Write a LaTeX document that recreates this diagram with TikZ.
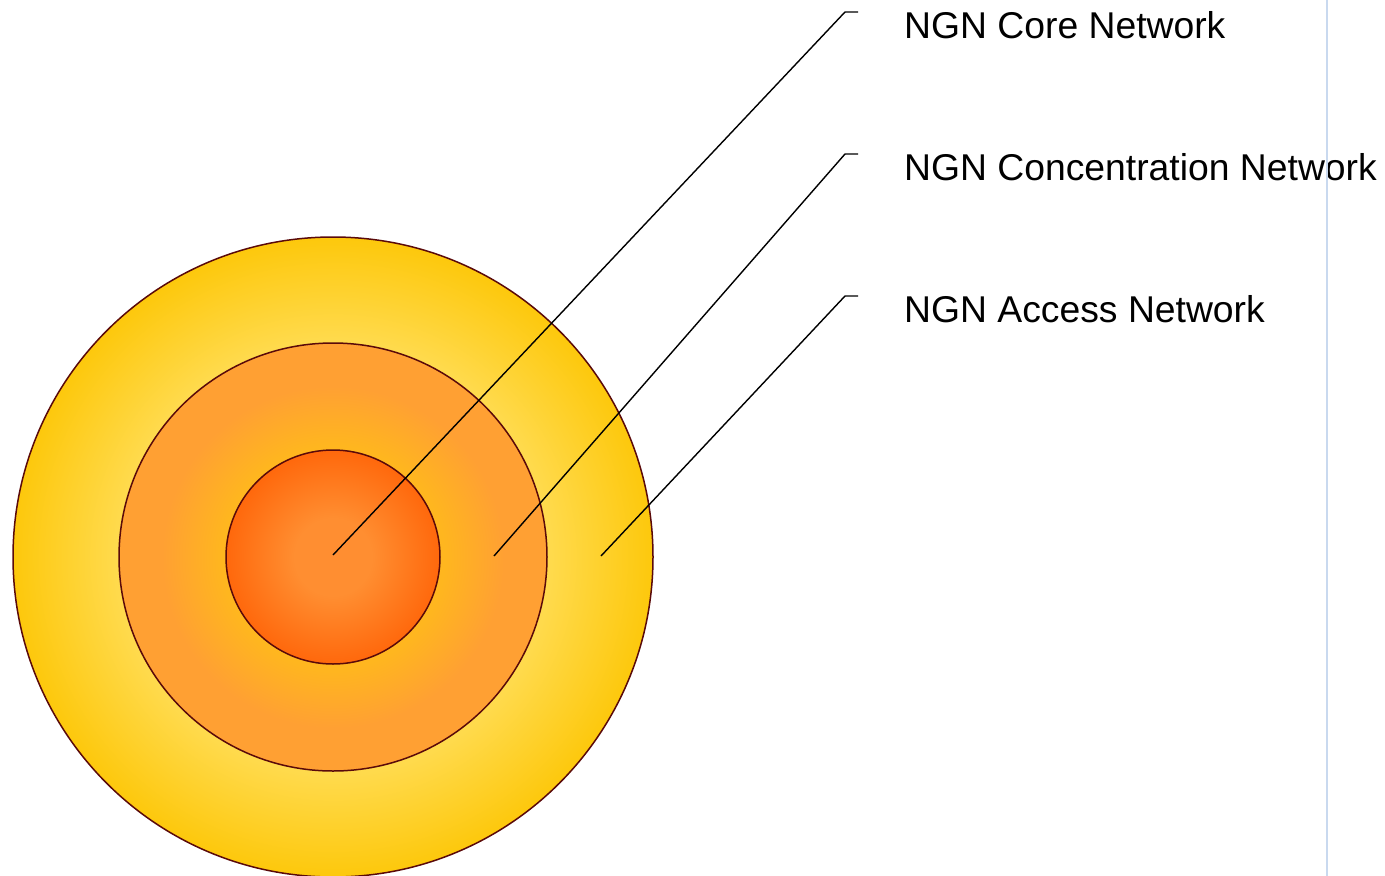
\documentclass[tikz,border=0pt]{standalone}
\usepackage{fontspec}
\setmainfont{Liberation Sans}
\definecolor{ringEdge}{HTML}{FDC80C}
\definecolor{ringLight}{HTML}{FFDA4C}
\definecolor{midEdge}{HTML}{FFA033}
\definecolor{midInner}{HTML}{FFB61F}
\definecolor{coreEdge}{HTML}{FF680C}
\definecolor{coreMid}{HTML}{FF8E31}
\definecolor{rimBrown}{HTML}{5A0A0A}
\definecolor{guideBlue}{HTML}{C9D9EF}
% radial fills: 25bp corresponds to the circle's radius
\pgfdeclareradialshading{accessshade}{\pgfpoint{0bp}{0bp}}{%
  color(0bp)=(ringLight); color(17bp)=(ringLight); color(25bp)=(ringEdge); color(50bp)=(ringEdge)}
\pgfdeclareradialshading{concshade}{\pgfpoint{0bp}{0bp}}{%
  color(0bp)=(midInner); color(13bp)=(midInner); color(20bp)=(midEdge); color(50bp)=(midEdge)}
\pgfdeclareradialshading{coreshade}{\pgfpoint{0bp}{0bp}}{%
  color(0bp)=(coreMid); color(9bp)=(coreMid); color(25bp)=(coreEdge); color(50bp)=(coreEdge)}
\begin{document}
\begin{tikzpicture}[x=1pt,y=-1pt,
  ring/.style={circle,inner sep=0pt,draw=rimBrown,line width=1.5pt},
  leader/.style={draw=black,line width=1.4pt},
  caption/.style={anchor=base west,inner sep=0pt,font=\fontsize{37.3}{44}\selectfont}]
\useasboundingbox (0,0) rectangle (1385,876);
% concentric network layers
\node[ring,minimum size=640pt,shading=accessshade] (access) at (333,557) {};
\node[ring,minimum size=428pt,shading=concshade] (conc) at (333,557) {};
\node[ring,minimum size=214pt,shading=coreshade] (core) at (333,557) {};
% labels
\node[caption] (lcore) at (904,38.5) {NGN Core Network};
\node[caption] (lconc) at (904,180.5) {NGN Concentration Network};
\node[caption] (lacc) at (904,322.5) {NGN Access Network};
% leader line anchors
\coordinate (pcore) at (333,555);
\coordinate (pconc) at (494,556);
\coordinate (pacc) at (601,556);
\coordinate (kcore) at (845,12);
\coordinate (kconc) at (845,154);
\coordinate (kacc) at (845,296);
\draw[leader] (pcore) -- (kcore) -- ++(13,0);
\draw[leader] (pconc) -- (kconc) -- ++(13,0);
\draw[leader] (pacc) -- (kacc) -- ++(13,0);
% page guide
\coordinate (gtop) at (1327,0);
\coordinate (gbot) at (1327,876);
\draw[guideBlue,line width=2pt] (gtop) -- (gbot);
\end{tikzpicture}
\end{document}
